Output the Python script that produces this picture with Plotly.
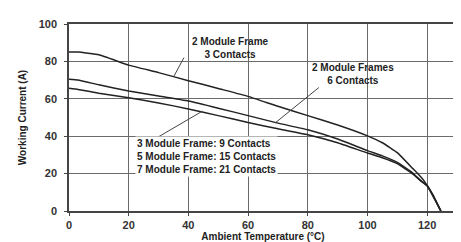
import plotly.graph_objects as go

temps = [0, 3, 10, 20, 30, 40, 50, 60, 70, 80, 90, 100, 105, 110, 115, 118, 120, 122, 124.6]
frame2_3c = [85, 85, 83.5, 78, 74, 69.7, 65.5, 61.3, 56, 51, 46, 40.2, 36.5, 31.2, 23, 18, 13.7, 8.5, 0]
frame2_6c = [70.5, 70, 67.5, 64.2, 61.5, 58.8, 55, 51, 47, 43.4, 38.5, 32.3, 29.5, 26, 20.5, 16, 13.5, 8, 0]
frame357 = [65.6, 65, 63, 60.5, 57.8, 54.6, 51, 47.3, 44, 40.8, 36.5, 31, 28.5, 25.3, 20, 16, 13.5, 8, 0]

x_ticks = [0, 20, 40, 60, 80, 100, 120]
y_ticks = [0, 20, 40, 60, 80, 100]

font = "Liberation Sans, Arial, sans-serif"
ink = "#222222"
grid = "#6a6a6a"

fig = go.Figure()
for ys in (frame2_3c, frame2_6c, frame357):
    fig.add_trace(go.Scatter(x=temps, y=ys, mode="lines", line=dict(color=ink, width=1.5, shape="spline", smoothing=0.3), showlegend=False, hoverinfo="skip"))

# leader lines
leaders = [((38.5, 82), (35.2, 72.2)), ((83.7, 66), (69, 47)), ((44.7, 53.4), (29.7, 39.4))]
for (x0, y0), (x1, y1) in leaders:
    fig.add_shape(type="line", x0=x0, y0=y0, x1=x1, y1=y1, xref="x", yref="y", line=dict(color="#444", width=1))

fig.add_annotation(x=54, y=87, text="<b>2 Module Frame<br>3 Contacts</b>", showarrow=False, font=dict(family=font, size=10, color=ink), align="center")
fig.add_annotation(x=95, y=73, text="<b>2 Module Frames<br>6 Contacts</b>", showarrow=False, font=dict(family=font, size=10, color=ink), align="center")
fig.add_annotation(x=22, y=29.3, xanchor="left", text="<b>3 Module Frame: 9 Contacts<br>5 Module Frame: 15 Contacts<br>7 Module Frame: 21 Contacts</b>", showarrow=False, font=dict(family=font, size=10, color=ink), align="left", bgcolor="white", borderpad=1)

fig.update_xaxes(range=[0, 130], tickvals=x_ticks, showgrid=True, gridcolor=grid, gridwidth=1, showline=True, linecolor="#444", linewidth=1.5, mirror=True, ticks="outside", ticklen=3, tickcolor="#444", zeroline=False,
                 tickfont=dict(family=font, size=11, color="#333", weight="bold"), title=dict(text="<b>Ambient Temperature (°C)</b>", font=dict(family=font, size=10, color=ink), standoff=2))
fig.update_yaxes(range=[0, 100], tickvals=y_ticks, showgrid=True, gridcolor=grid, gridwidth=1, showline=True, linecolor="#444", linewidth=1.5, mirror=True, ticks="outside", ticklen=3, tickcolor="#444", zeroline=False, ticklabelstandoff=5,
                 tickfont=dict(family=font, size=11, color="#333", weight="bold"), title=dict(text="<b>Working Current (A)</b>", font=dict(family=font, size=10, color=ink), standoff=10))
fig.update_layout(width=461, height=242, margin=dict(l=61, r=10, t=16, b=38), paper_bgcolor="white", plot_bgcolor="white")
fig.write_html("out.html")
